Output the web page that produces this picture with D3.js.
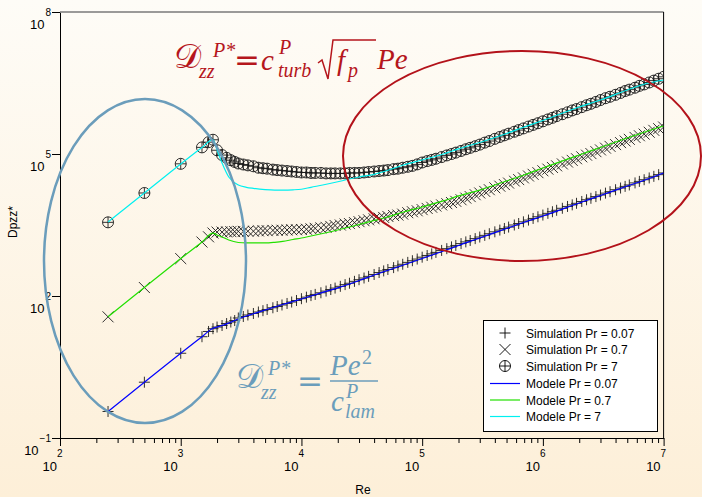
<!DOCTYPE html>
<html>
<head>
<meta charset="utf-8">
<script src="https://cdn.jsdelivr.net/npm/d3@7"></script>
<style>
  html, body { margin: 0; padding: 0; }
  body { width: 702px; height: 497px; overflow: hidden; }
  svg { display: block; font-family: "Liberation Sans", Arial, sans-serif; }
</style>
</head>
<body>
<svg id="chart" width="702" height="497"></svg>
<script>
// Simulation Reynolds numbers
var simRe = [250, 500, 1000, 1500, 1700, 1850,
  2000, 2200, 2400, 2600, 2800, 3000, 3300, 3600, 4000, 4400, 4800, 5200, 5800, 6300, 6900, 7600, 8300, 9100,
  1e4, 1.1e4, 1.2e4, 1.3e4, 1.45e4, 1.6e4, 1.75e4, 1.9e4, 2.1e4, 2.3e4, 2.5e4, 2.75e4, 3e4, 3.3e4, 3.6e4, 4e4, 4.4e4, 4.8e4, 5.2e4, 5.8e4, 6.3e4, 6.9e4, 7.6e4, 8.3e4, 9.1e4,
  1e5, 1.1e5, 1.2e5, 1.3e5, 1.45e5, 1.6e5, 1.75e5, 1.9e5, 2.1e5, 2.3e5, 2.5e5, 2.75e5, 3e5, 3.3e5, 3.6e5, 4e5, 4.4e5, 4.8e5, 5.2e5, 5.8e5, 6.3e5, 6.9e5, 7.6e5, 8.3e5, 9.1e5,
  1e6, 1.1e6, 1.2e6, 1.3e6, 1.45e6, 1.6e6, 1.75e6, 1.9e6, 2.1e6, 2.3e6, 2.5e6, 2.75e6, 3e6, 3.3e6, 3.6e6, 4e6, 4.4e6, 4.8e6, 5.2e6, 5.8e6, 6.3e6, 6.9e6, 7.6e6, 8.3e6, 9.1e6,
  1e7];

// Simulation Dpzz*, Pr = 0.07 (+)
var simPr007 = [0.363, 1.51, 6.17, 13.8, 17.8, 20.4,
  22.1, 23.8, 26.2, 28.2, 30.3, 34.3, 36.9, 39.7, 42.7, 45.9, 49.0, 51.9, 56.4, 60.0, 64.6, 69.5, 74.6, 80.4,
  87.7, 94.6, 102, 108, 117, 127, 137, 147, 160, 174, 186, 204, 221, 240, 260, 285, 313, 339, 363, 398, 432, 468, 513, 556, 603,
  661, 718, 776, 834, 918, 1000, 1090, 1170, 1280, 1390, 1490, 1630, 1760, 1910, 2070, 2270, 2470, 2670, 2860, 3160, 3400, 3690, 4020, 4350, 4720,
  5130, 5570, 6030, 6470, 7130, 7800, 8430, 9080, 9930, 1.08e4, 1.16e4, 1.26e4, 1.36e4, 1.49e4, 1.6e4, 1.76e4, 1.91e4, 2.07e4, 2.22e4, 2.45e4, 2.64e4, 2.86e4, 3.12e4, 3.37e4, 3.66e4,
  3.98e4];

// Simulation Dpzz*, Pr = 0.7 (x)
var simPr07 = [36.3, 151, 617, 1380, 1780, 2140,
  2240, 2240, 2260, 2290, 2290, 2320, 2320, 2340, 2340, 2370, 2400, 2400, 2430, 2450, 2450, 2480, 2510, 2510,
  2540, 2570, 2630, 2690, 2750, 2820, 2950, 3090, 3160, 3310, 3390, 3550, 3720, 3890, 4070, 4270, 4420, 4570, 4790, 5010, 5130, 5370, 5750, 6030, 6310,
  6680, 7080, 7500, 7940, 8410, 8910, 9440, 1.0e4, 1.08e4, 1.17e4, 1.26e4, 1.38e4, 1.5e4, 1.62e4, 1.76e4, 1.93e4, 2.09e4, 2.26e4, 2.43e4, 2.69e4, 2.88e4, 3.13e4, 3.43e4, 3.72e4, 4.03e4,
  4.42e4, 4.79e4, 5.19e4, 5.62e4, 6.17e4, 6.76e4, 7.33e4, 7.94e4, 8.71e4, 9.44e4, 1.02e5, 1.12e5, 1.22e5, 1.33e5, 1.45e5, 1.58e5, 1.74e5, 1.88e5, 2.04e5, 2.24e5, 2.43e5, 2.63e5, 2.88e5, 3.16e5, 3.43e5,
  3.72e5];

// Simulation Dpzz*, Pr = 7 (circle-plus)
var simPr7 = [3.6e3, 1.5e4, 6.2e4, 1.38e5, 1.78e5, 2.0e5,
  1.2e5, 9.5e4, 8.3e4, 7.4e4, 6.8e4, 6.3e4, 6.0e4, 5.75e4, 5.5e4, 5.13e4, 5.0e4, 4.9e4, 4.68e4, 4.57e4, 4.47e4, 4.37e4, 4.27e4, 4.17e4,
  4.07e4, 4.07e4, 3.98e4, 3.98e4, 3.98e4, 3.89e4, 3.89e4, 3.89e4, 3.89e4, 3.89e4, 3.98e4, 3.98e4, 3.98e4, 4.07e4, 4.17e4, 4.27e4, 4.37e4, 4.47e4, 4.57e4, 4.79e4, 4.9e4, 5.13e4, 5.37e4, 5.62e4, 6.03e4,
  6.61e4, 7.08e4, 7.5e4, 7.94e4, 8.61e4, 9.33e4, 1.0e5, 1.07e5, 1.16e5, 1.26e5, 1.35e5, 1.46e5, 1.58e5, 1.74e5, 1.88e5, 2.09e5, 2.29e5, 2.48e5, 2.69e5, 2.95e5, 3.2e5, 3.47e5, 3.8e5, 4.12e5, 4.47e5,
  4.9e5, 5.37e5, 5.82e5, 6.31e5, 6.92e5, 7.59e5, 8.32e5, 8.91e5, 9.77e5, 1.07e6, 1.15e6, 1.26e6, 1.38e6, 1.51e6, 1.62e6, 1.78e6, 1.95e6, 2.14e6, 2.29e6, 2.51e6, 2.75e6, 2.95e6, 3.24e6, 3.55e6, 3.89e6,
  4.27e6];

// Model curves
var modRe = [250, 500, 1000, 1500, 1850, 2000, 2200, 2500, 3000, 3500, 4000, 5000, 6000, 7000, 8500,
  1e4, 1.2e4, 1.5e4, 2e4, 2.5e4, 3e4, 4e4, 5e4, 7e4, 1e5, 1.5e5, 2e5, 3e5, 5e5, 7e5, 1e6, 2e6, 3e6, 5e6, 7e6, 1e7];
var modPr007 = [0.363, 1.51, 6.17, 13.8, 20.9, 22.1, 23.8, 26.9, 32.7, 37.8, 42.1, 50.6, 58.6, 66.1, 76.5,
  86.5, 100, 119, 148, 179, 212, 278, 337, 452, 619, 893, 1170, 1680, 2670, 3610, 4900, 9230, 1.33e4, 2.11e4, 2.82e4, 3.97e4];
var modPr07 = [36.3, 151, 617, 1380, 2140, 1950, 1770, 1520, 1350, 1320, 1320, 1320, 1360, 1420, 1560,
  1680, 1850, 2090, 2480, 2870, 3240, 3940, 4560, 5960, 7590, 1.02e4, 1.30e4, 1.73e4, 2.69e4, 3.60e4, 5.06e4, 9.53e4, 1.37e5, 2.18e5, 2.92e5, 3.91e5];
var modPr7 = [3.66e3, 1.50e4, 6.15e4, 1.37e5, 2.02e5, 1.21e5, 6.46e4, 3.27e4, 2.21e4, 1.98e4, 1.88e4, 1.77e4, 1.73e4, 1.73e4, 1.75e4,
  1.80e4, 1.98e4, 2.21e4, 2.59e4, 2.96e4, 3.27e4, 3.72e4, 4.38e4, 5.86e4, 7.48e4, 1.00e5, 1.28e5, 1.75e5, 2.71e5, 3.72e5, 5.10e5, 9.84e5, 1.38e6, 2.25e6, 3.01e6, 3.66e6];

var xTickExps = [2, 3, 4, 5, 6, 7];
var yTickExps = [-1, 2, 5, 8];
var legendLabels = ['Simulation Pr = 0.07', 'Simulation Pr = 0.7', 'Simulation Pr = 7',
  'Modele Pr = 0.07', 'Modele Pr = 0.7', 'Modele Pr = 7'];

(function(){
  var W = 702, H = 497;
  var left = 60, right = 663.6, top = 12, bottom = 438;
  var svg = d3.select('#chart');

  var defs = svg.append('defs');
  var grad = defs.append('linearGradient').attr('id', 'bg')
    .attr('x1', 0).attr('y1', 0).attr('x2', 0).attr('y2', 1);
  grad.append('stop').attr('offset', '0%').attr('stop-color', '#fefcf7');
  grad.append('stop').attr('offset', '100%').attr('stop-color', '#fdefd8');
  defs.append('clipPath').attr('id', 'plotclip').append('rect')
    .attr('x', left).attr('y', top).attr('width', right - left).attr('height', bottom - top);

  svg.append('rect').attr('width', W).attr('height', H).attr('fill', 'url(#bg)');

  var x = d3.scaleLog().domain([1e2, 1e7]).range([left, right]);
  var y = d3.scaleLog().domain([1e-1, 1e8]).range([bottom, top]);

  // Axes
  var minor = [];
  xTickExps.slice(0, -1).forEach(function(e) {
    for (var m = 2; m <= 9; m++) minor.push(m * Math.pow(10, e));
  });
  var major = xTickExps.map(function(e) { return Math.pow(10, e); });

  var gx = svg.append('g').attr('transform', 'translate(0,' + bottom + ')');
  gx.call(d3.axisBottom(x).tickValues(minor).tickSize(5).tickSizeOuter(0).tickFormat(''));
  gx.append('g').call(d3.axisBottom(x).tickValues(major).tickSize(8).tickSizeOuter(0).tickFormat(''))
    .select('.domain').remove();
  gx.selectAll('line, path').attr('stroke', '#000');

  var gy = svg.append('g').attr('transform', 'translate(' + left + ',0)');
  gy.call(d3.axisLeft(y).tickValues(yTickExps.map(function(e) { return Math.pow(10, e); }))
    .tickSize(8).tickSizeOuter(0).tickFormat(''));
  gy.selectAll('line, path').attr('stroke', '#000');

  svg.append('line').attr('x1', left).attr('x2', right).attr('y1', top).attr('y2', top)
    .attr('stroke', '#7a7a7a').attr('stroke-width', 1.5);
  svg.append('line').attr('x1', right).attr('x2', right).attr('y1', top).attr('y2', bottom)
    .attr('stroke', '#000');

  function expText(e) { return e < 0 ? '\u2212' + (-e) : String(e); }

  // x tick labels
  var xl = svg.append('g').attr('font-size', 13).attr('fill', '#000');
  xTickExps.forEach(function(e) {
    var px = x(Math.pow(10, e));
    xl.append('text').attr('x', px - 3).attr('y', 471).attr('text-anchor', 'end').text('10');
    xl.append('text').attr('x', px - 3).attr('y', 457).attr('font-size', 10).text(expText(e));
  });

  // y tick labels
  var yl = svg.append('g').attr('font-size', 13).attr('fill', '#000');
  yTickExps.forEach(function(e) {
    var py = y(Math.pow(10, e));
    var t = yl.append('text').attr('x', 51).attr('y', py + 17).attr('text-anchor', 'end');
    t.append('tspan').text('10');
    t.append('tspan').attr('dx', 1).attr('dy', -13).attr('font-size', 10).text(expText(e));
  });

  svg.append('text').attr('x', 363).attr('y', 494).attr('text-anchor', 'middle')
    .attr('font-size', 12).text('Re');
  svg.append('text').attr('transform', 'translate(17,222) rotate(-90)')
    .attr('text-anchor', 'middle').attr('font-size', 12).text('Dpzz*');

  // Markers
  var plusPath = 'M-5.5,0H5.5M0,-5.5V5.5';
  var crossPath = 'M-5.5,-5.5L5.5,5.5M-5.5,5.5L5.5,-5.5';
  var plot = svg.append('g').attr('clip-path', 'url(#plotclip)');

  function markers(vals, kind) {
    var g = plot.append('g').attr('fill', 'none').attr('stroke', '#1a1a1a').attr('stroke-width', 0.9);
    var sel = g.selectAll('g.m').data(vals).enter().append('g').attr('class', 'm')
      .attr('transform', function(d, i) { return 'translate(' + x(simRe[i]) + ',' + y(d) + ')'; });
    drawMarker(sel, kind);
  }
  function drawMarker(sel, kind) {
    if (kind === 'plus') sel.append('path').attr('d', plusPath);
    else if (kind === 'cross') sel.append('path').attr('d', crossPath);
    else {
      sel.append('circle').attr('r', 5.5);
      sel.append('path').attr('d', plusPath);
    }
  }
  markers(simPr007, 'plus');
  markers(simPr07, 'cross');
  markers(simPr7, 'circle');

  // Model lines
  var line = d3.line()
    .x(function(d) { return x(d[0]); })
    .y(function(d) { return y(d[1]); })
    .curve(d3.curveMonotoneX);
  var models = [
    {vals: modPr007, color: '#0000ff'},
    {vals: modPr07, color: '#22e000'},
    {vals: modPr7, color: '#00f0f0'}
  ];
  models.forEach(function(m) {
    plot.append('path')
      .datum(modRe.map(function(r, i) { return [r, m.vals[i]]; }))
      .attr('d', line).attr('fill', 'none')
      .attr('stroke', m.color).attr('stroke-width', 1.2);
  });

  // Ellipses
  svg.append('ellipse').attr('cx', 145).attr('cy', 261).attr('rx', 101).attr('ry', 162)
    .attr('fill', 'none').attr('stroke', '#6b9dbb').attr('stroke-width', 2.5);
  svg.append('ellipse').attr('cx', 522).attr('cy', 156).attr('rx', 179).attr('ry', 105)
    .attr('fill', 'none').attr('stroke', '#b3121a').attr('stroke-width', 2);

  // Formulas
  var serif = '"Liberation Serif", "DejaVu Serif", serif';
  var script = '"DejaVu Serif", "DejaVu Sans", serif';
  function piece(g, txt, px, py, size, italic, family) {
    g.append('text').attr('x', px).attr('y', py).attr('font-size', size)
      .attr('font-family', family || serif)
      .attr('font-style', italic === false ? 'normal' : 'italic')
      .text(txt);
  }
  var red = '#b5161c';
  var f1 = svg.append('g').attr('fill', red);
  piece(f1, '\uD835\uDC9F', 174, 68, 34, false, script);
  piece(f1, 'P*', 213, 57, 20);
  piece(f1, 'zz', 199, 78, 20);
  piece(f1, '=', 234, 70, 31, false, '"DejaVu Sans", sans-serif');
  piece(f1, 'c', 261, 70, 29);
  piece(f1, 'P', 279, 54, 20);
  piece(f1, 'turb', 278, 77, 20);
  svg.append('path').attr('d', 'M318,63 L322,60 L328,79 L333,40 L376,40')
    .attr('fill', 'none').attr('stroke', red).attr('stroke-width', 1.5);
  piece(f1, 'f', 337, 70, 29);
  piece(f1, 'p', 348, 77, 20);
  piece(f1, 'Pe', 377, 69, 29);

  var blue = '#6b9dbb';
  var f2 = svg.append('g').attr('fill', blue);
  piece(f2, '\uD835\uDC9F', 236, 388, 34, false, script);
  piece(f2, 'P*', 268, 375, 20);
  piece(f2, 'zz', 261, 399, 20);
  piece(f2, '=', 297, 391, 31, false, '"DejaVu Sans", sans-serif');
  piece(f2, 'Pe', 330, 375, 29);
  piece(f2, '2', 362, 364, 20, false);
  svg.append('line').attr('x1', 330).attr('x2', 378).attr('y1', 381).attr('y2', 381)
    .attr('stroke', blue).attr('stroke-width', 1.5);
  piece(f2, 'c', 331, 411, 29);
  piece(f2, 'P', 346, 398, 20);
  piece(f2, 'lam', 345, 418, 20);

  // Legend
  var lg = svg.append('g');
  lg.append('rect').attr('x', 483.5).attr('y', 320.5).attr('width', 174).attr('height', 111)
    .attr('fill', '#fff').attr('stroke', '#000');
  var rowY = [333, 349.5, 366, 383.5, 400, 416.5];
  var kinds = ['plus', 'cross', 'circle'];
  legendLabels.forEach(function(lab, i) {
    var yy = rowY[i];
    if (i < 3) {
      var mg = lg.append('g').attr('transform', 'translate(505,' + yy + ')')
        .attr('fill', 'none').attr('stroke', '#000').attr('stroke-width', 0.9);
      drawMarker(mg, kinds[i]);
    } else {
      lg.append('line').attr('x1', 490).attr('x2', 520).attr('y1', yy).attr('y2', yy)
        .attr('stroke', models[i - 3].color).attr('stroke-width', 1.2);
    }
    lg.append('text').attr('x', 526).attr('y', yy + 4.5).attr('font-size', 12).text(lab);
  });
})();
</script>
</body>
</html>
